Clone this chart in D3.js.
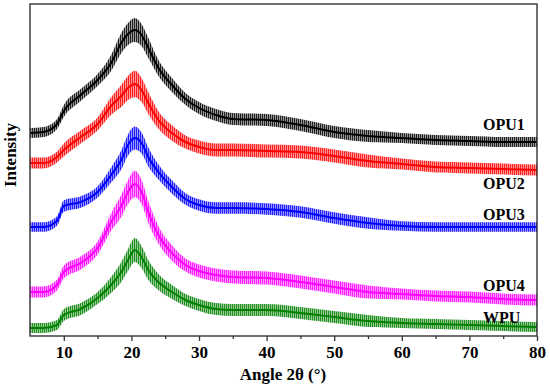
<!DOCTYPE html>
<html>
<head>
<meta charset="utf-8">
<script src="https://cdn.jsdelivr.net/npm/d3@7"></script>
<style>
  body { margin: 0; background: #fff; }
  svg { display: block; }
  text { font-family: "Liberation Serif", "Times New Roman", serif; font-weight: bold; fill: #000; }
</style>
</head>
<body>
<div id="chart"></div>
<script>
// 2-theta positions (degrees) where the traces were read
var angles = [5, 7, 9, 10, 12.5, 15, 17, 18.5, 19.5, 20.5, 21.5, 22.5, 24, 26, 28, 30, 32.5, 35, 40, 45, 50, 55, 60, 65, 70, 75, 80];

// intensity (a.u., stacked offsets included)
var opu1 = [203, 204, 212, 225, 241, 256, 273, 293, 302, 306, 301, 288, 268, 251, 237, 228, 221, 217, 216, 211, 204, 200, 198, 196, 195, 194, 194];
var opu2 = [173, 173, 179, 186, 199, 212, 230, 240, 248, 252, 246, 233, 216, 203, 194, 189, 186, 186, 185, 184, 180, 175, 172, 169, 168, 167, 166];
var opu3 = [109, 109, 115, 130, 134, 144, 161, 176, 191, 198, 193, 179, 164, 149, 137, 131, 128, 128, 127, 124, 118, 113, 110, 109, 109, 109, 109];
var opu4 = [44, 44, 51, 64, 73, 88, 114, 130, 144, 152, 144, 124, 101, 83, 71, 65, 61, 59, 58, 54, 49, 44, 42, 40, 39, 37, 36];
var wpu  = [8, 8, 11, 21, 27, 38, 51, 64, 76, 86, 79, 66, 54, 44, 36, 31, 27, 26, 26, 23, 19, 15, 13, 12, 11, 10, 9];

// typical noise half-amplitude at each angle (a.u.), and how noisy each trace is relative to it
var noiseAmp = [5, 5, 5, 6, 6, 6, 8, 10, 11, 12, 11, 10, 8, 7, 6, 6, 6, 6, 6, 6, 6, 6, 5, 5, 5, 5, 5];
var noiseScale = [1, 1.1, 0.95, 1.1, 1];

var names = ['OPU1', 'OPU2', 'OPU3', 'OPU4', 'WPU'];
var colors = ['#000000', '#ff0000', '#0000ff', '#ff00ff', '#008000'];
var xTicks = [10, 20, 30, 40, 50, 60, 70, 80];
var xMinorTicks = [15, 25, 35, 45, 55, 65, 75];

var width = 550, height = 391;
var plotLeft = 30, plotRight = 537, plotTop = 4, plotBottom = 336;

var svg = d3.select('#chart').append('svg')
  .attr('width', width)
  .attr('height', height);

var x = d3.scaleLinear().domain([5, 80]).range([plotLeft, plotRight]);
var y = d3.scaleLinear().domain([0, 332]).range([plotBottom, plotTop]);

var defs = svg.append('defs');
defs.append('clipPath').attr('id', 'plot-clip')
  .append('rect')
  .attr('x', plotLeft).attr('y', plotTop)
  .attr('width', plotRight - plotLeft).attr('height', plotBottom - plotTop);

// fine vertical hatch to suggest the dense noise of the raw scans
colors.forEach(function (c, i) {
  var p = defs.append('pattern')
    .attr('id', 'noise' + i)
    .attr('patternUnits', 'userSpaceOnUse')
    .attr('width', 2).attr('height', 4);
  p.append('rect').attr('width', 2).attr('height', 4).attr('fill', c).attr('opacity', 0.4);
  p.append('rect').attr('width', 1).attr('height', 4).attr('fill', c).attr('opacity', 0.8);
});

var series = [opu1, opu2, opu3, opu4, wpu].map(function (vals, i) {
  return {
    name: names[i],
    color: colors[i],
    points: angles.map(function (a, j) {
      return { a: a, v: vals[j], n: noiseAmp[j] * noiseScale[i] };
    })
  };
});

var plot = svg.append('g').attr('clip-path', 'url(#plot-clip)');

var area = d3.area()
  .curve(d3.curveMonotoneX)
  .x(function (d) { return x(d.a); })
  .y0(function (d) { return y(d.v - d.n); })
  .y1(function (d) { return y(d.v + d.n); });

var line = d3.line()
  .curve(d3.curveMonotoneX)
  .x(function (d) { return x(d.a); })
  .y(function (d) { return y(d.v); });

series.forEach(function (s, i) {
  plot.append('path')
    .datum(s.points)
    .attr('d', area)
    .attr('fill', 'url(#noise' + i + ')');
  plot.append('path')
    .datum(s.points)
    .attr('d', line)
    .attr('fill', 'none')
    .attr('stroke', s.color)
    .attr('stroke-width', 2);
});

// frame
svg.append('rect')
  .attr('x', plotLeft).attr('y', plotTop)
  .attr('width', plotRight - plotLeft).attr('height', plotBottom - plotTop)
  .attr('fill', 'none')
  .attr('stroke', '#333')
  .attr('stroke-width', 1.4);

// bottom axis
var xAxis = svg.append('g')
  .attr('transform', 'translate(0,' + plotBottom + ')')
  .call(d3.axisBottom(x).tickValues(xTicks).tickSize(5).tickPadding(5).tickFormat(d3.format('d')));
xAxis.select('.domain').remove();
xAxis.selectAll('line').attr('stroke', '#333').attr('stroke-width', 1.3);
xAxis.selectAll('text').style('font-size', '17px').attr('fill', '#000');

svg.append('g')
  .attr('transform', 'translate(0,' + plotBottom + ')')
  .call(d3.axisBottom(x).tickValues(xMinorTicks).tickSize(3).tickFormat(''))
  .call(function (g) { g.select('.domain').remove(); })
  .selectAll('line').attr('stroke', '#333').attr('stroke-width', 1.3);

// series labels
var labelY = [130, 189, 220, 291, 323];
names.forEach(function (n, i) {
  svg.append('text')
    .attr('x', 483)
    .attr('y', labelY[i])
    .style('font-size', '16px')
    .text(n);
});

// axis titles
svg.append('text')
  .attr('x', 283).attr('y', 380)
  .attr('text-anchor', 'middle')
  .style('font-size', '17px')
  .text('Angle 2θ (°)');

svg.append('text')
  .attr('transform', 'translate(16,155) rotate(-90)')
  .attr('text-anchor', 'middle')
  .style('font-size', '17px')
  .text('Intensity');
</script>
</body>
</html>
